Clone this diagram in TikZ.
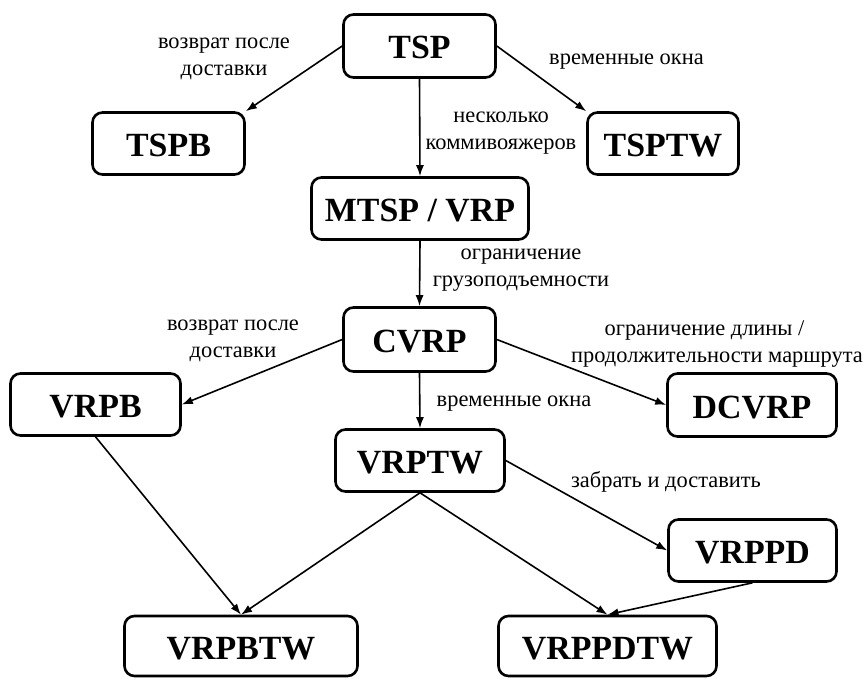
\documentclass[tikz,border=0pt]{standalone}
\usepackage{fontspec}
\setmainfont{Liberation Serif}
\usetikzlibrary{arrows.meta}
\begin{document}
\begin{tikzpicture}[x=1bp,y=-1bp,
  box/.style={draw, line width=2.6bp, rounded corners=10bp, inner sep=0pt, text height=26bp, text depth=0bp,
    font=\fontsize{34}{40}\selectfont\bfseries},
  arr/.style={line width=1.6bp, -{Latex[length=11bp,width=8bp]}},
  lbl/.style={align=center, inner sep=0pt, font=\fontsize{22.5}{27}\selectfont}]
\useasboundingbox (0,0) rectangle (866,679);

\node[box, minimum width=152bp, minimum height=63bp] (tsp) at (419.5,46) {TSP};
\node[box, minimum width=152bp, minimum height=62bp] (tspb) at (168.5,143.5) {TSPB};
\node[box, minimum width=151bp, minimum height=62bp] (tsptw) at (663,143.5) {TSPTW};
\node[box, minimum width=217bp, minimum height=62bp] (mtsp) at (420,208.5) {MTSP / VRP};
\node[box, minimum width=152bp, minimum height=64bp] (cvrp) at (419.5,339.5) {CVRP};
\node[box, minimum width=170bp, minimum height=62bp] (vrpb) at (95.5,404.5) {VRPB};
\node[box, minimum width=169bp, minimum height=63bp] (dcvrp) at (752,405) {DCVRP};
\node[box, minimum width=169bp, minimum height=62bp] (vrptw) at (420,460.5) {VRPTW};
\node[box, minimum width=168bp, minimum height=62bp] (vrppd) at (752.5,550.5) {VRPPD};
\node[box, minimum width=233bp, minimum height=60bp] (vrpbtw) at (241,646) {VRPBTW};
\node[box, minimum width=218bp, minimum height=60bp] (vrppdtw) at (607.5,646) {VRPPDTW};

\draw[arr] (tsp.west) -- (tspb.north east);
\draw[arr] (tsp.east) -- (tsptw.north west);
\draw[arr] (tsp.south) -- (mtsp.north);
\draw[arr] (mtsp.south) -- (cvrp.north);
\draw[arr] (cvrp.west) -- (vrpb.east);
\draw[arr] (cvrp.east) -- (dcvrp.west);
\draw[arr] (cvrp.south) -- (vrptw.north);
\draw[arr] (vrpb.south) -- (vrpbtw.north);
\draw[arr] (vrptw.south) -- (vrpbtw.north);
\draw[arr] (vrptw.south) -- (vrppdtw.north);
\draw[arr] (vrptw.east) -- (vrppd.west);
\draw[arr] (vrppd.south) -- (vrppdtw.north);

\node[lbl] (l1) at (224,59) {возврат после\\доставки};
\node[lbl] (l2) at (626.5,62) {временные окна};
\node[lbl] (l3) at (501,133) {несколько\\коммивояжеров};
\node[lbl] (l4) at (521,270) {ограничение\\грузоподъемности};
\node[lbl] (l5) at (233,341) {возврат после\\доставки};
\node[lbl] (l6) at (717,344) {ограничение длины /\hspace*{25bp}\mbox{}\\продолжительности маршрута};
\node[lbl] (l7) at (514,404) {временные окна};
\node[lbl] (l8) at (666,482) {забрать и доставить};
\end{tikzpicture}
\end{document}
